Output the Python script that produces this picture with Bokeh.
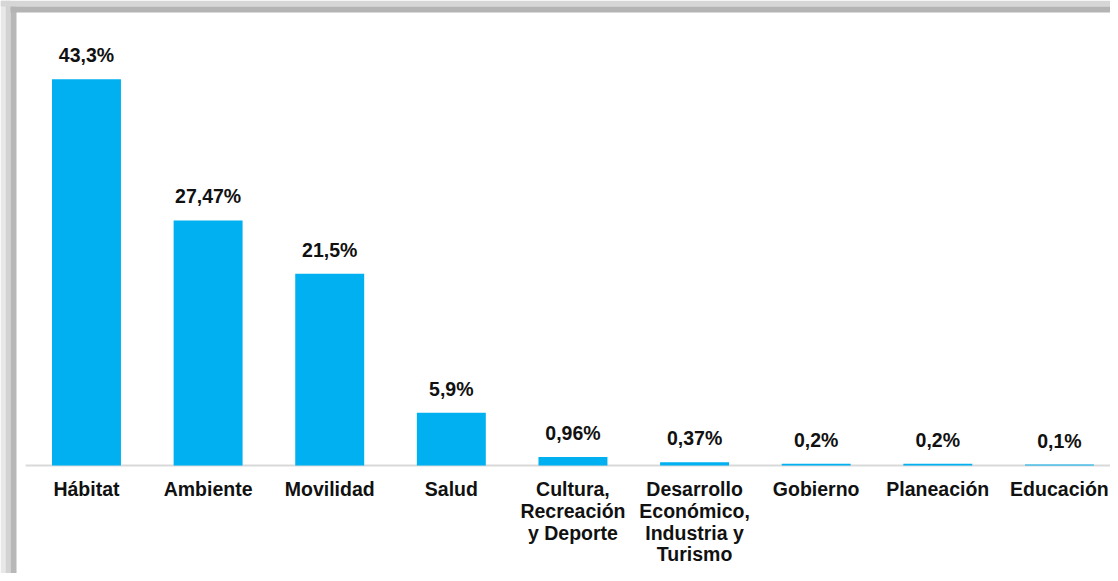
from bokeh.plotting import figure
from bokeh.models import ColumnDataSource, Range1d, BoxAnnotation
from bokeh.core.properties import value
from bokeh.embed import file_html
from bokeh.resources import INLINE

categories = ["Hábitat", "Ambiente", "Movilidad", "Salud",
              "Cultura,\nRecreación\ny Deporte",
              "Desarrollo\nEconómico,\nIndustria y\nTurismo",
              "Gobierno", "Planeación", "Educación"]
values = [43.3, 27.47, 21.5, 5.9, 0.96, 0.37, 0.2, 0.2, 0.1]
value_labels = ["43,3%", "27,47%", "21,5%", "5,9%", "0,96%", "0,37%", "0,2%", "0,2%", "0,1%"]

idx = list(range(len(categories)))
zeros = [0] * len(categories)
src = ColumnDataSource(dict(x=idx, cat=categories, val=values, lab=value_labels, zero=zeros))

W, H = 1110, 573
p = figure(width=W, height=H, output_backend="svg", toolbar_location=None,
           x_range=Range1d(-0.707, 8.42), y_range=Range1d(-12.11, 52.13),
           min_border_left=0, min_border_right=0, min_border_top=0, min_border_bottom=0)
p.axis.visible = False
p.grid.visible = False
p.outline_line_color = None
p.border_fill_color = "white"
p.background_fill_color = "white"


def band(l, r, t, b, color):
    # screen units: x from the left, y from the bottom of the frame
    p.add_layout(BoxAnnotation(left=l, right=r, top=t, bottom=b,
                               left_units="screen", right_units="screen",
                               top_units="screen", bottom_units="screen",
                               fill_color=color, fill_alpha=1, line_color=None))


# shadow bands of the picture frame (top and left)
band(0, 5, H, 0, "#e8e8e8")
band(5, 10, H, 0, "#d3d3d3")
band(10, 16, H - 6, 0, "#b8b8b8")
band(0, W, H, H - 6, "#d6d6d6")
band(10, W, H - 6, H - 12, "#b4b4b4")

# baseline
p.segment(x0=[idx[0] - 0.5], x1=[idx[-1] + 0.5], y0=[0], y1=[0],
          line_color="#d9d9d9", line_width=2)

p.vbar(x="x", top="val", width=0.567, source=src, fill_color="#00B0F0", line_color=None)

p.text(x="x", y="val", text="lab", source=src, text_align="center", text_baseline="middle",
       y_offset=-24, text_font=value("Liberation Sans"), text_font_style="bold",
       text_font_size="19.5px", text_color="#111111")

p.text(x="x", y="zero", text="cat", source=src, text_align="center", text_baseline="top",
       y_offset=13, text_font=value("Liberation Sans"), text_font_style="bold",
       text_font_size="19.5px", text_color="#111111", text_line_height=0.98)

open("out.html", "w").write(file_html(p, INLINE))
